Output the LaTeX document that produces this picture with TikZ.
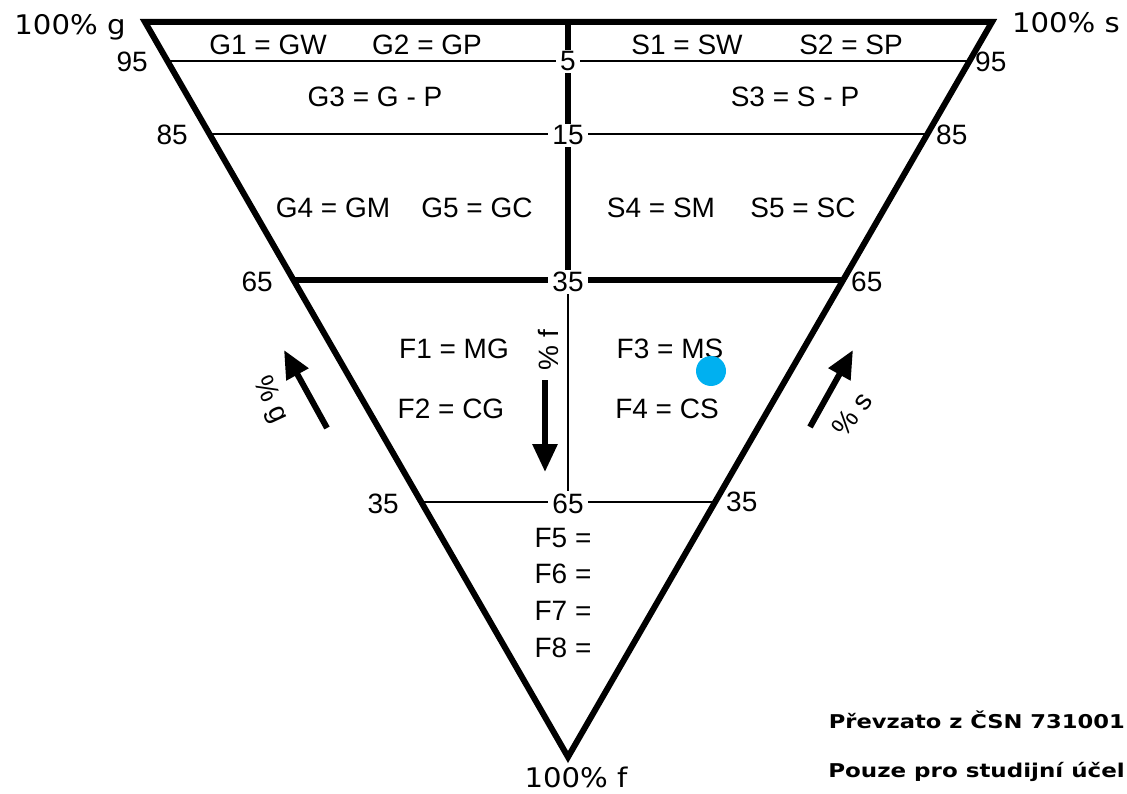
\documentclass[tikz,border=0pt]{standalone}
\usepackage{fontspec}
\usepackage{graphicx}
\setmainfont{Liberation Sans}
\newfontfamily\titlefont{DejaVu Sans}
\usetikzlibrary{calc,arrows.meta}
\definecolor{dotblue}{RGB}{0,176,240}
\tikzset{
  edgeline/.style={line width=6pt, line join=miter},
  thinline/.style={line width=1.5pt},
  thickmid/.style={line width=5.5pt},
  lab/.style={font=\fontsize{28}{32}\selectfont, inner sep=0pt, anchor=base},
  midlab/.style={lab, fill=white, inner xsep=4pt, inner ysep=2pt},
  corner/.style={font=\titlefont\fontsize{27}{31}\selectfont, inner sep=0pt, anchor=base},
  note/.style={font=\titlefont\bfseries\fontsize{19}{23}\selectfont, inner sep=0pt, anchor=base east},
  bigarrow/.style={line width=6pt, -{Triangle[length=28pt,width=24pt]}},
}
\begin{document}
\begin{tikzpicture}[x=1pt,y=-1pt]
\useasboundingbox (0,0) rectangle (1127,794);
% vertices
\coordinate (A) at (145,22);
\coordinate (B) at (992,22);
\coordinate (C) at (568,757);
\coordinate (T) at (568,22);
\coordinate (M65) at (568,280);
\coordinate (M35) at (568,502);
\coordinate (L95) at ($(A)!0.0531!(C)$);
\coordinate (R95) at ($(B)!0.0531!(C)$);
\coordinate (L85) at ($(A)!0.1524!(C)$);
\coordinate (R85) at ($(B)!0.1524!(C)$);
\coordinate (L65) at ($(A)!0.3510!(C)$);
\coordinate (R65) at ($(B)!0.3510!(C)$);
\coordinate (L35) at ($(A)!0.6531!(C)$);
\coordinate (R35) at ($(B)!0.6531!(C)$);
% grid lines
\draw[thinline] (L95) -- (R95);
\draw[thinline] (L85) -- (R85);
\draw[edgeline] (L65) -- (R65);
\draw[thinline] (L35) -- (R35);
\draw[thickmid] (T) -- (M65);
\draw[thinline] (M65) -- (M35);
% triangle
\draw[edgeline] (A) -- (B) -- (C) -- cycle;
% corner labels
\node[corner] (cg) at (70,35) {\scalebox{1.08}[1]{100\% g}};
\node[corner] (cs) at (1066,33) {\scalebox{1.08}[1]{100\% s}};
\node[corner] (cf) at (576,787) {\scalebox{1.08}[1]{100\% f}};
% scale numbers
\node[lab,anchor=base east] (l95) at (148,72) {95};
\node[lab,anchor=base east] (l85) at (188,145) {85};
\node[lab,anchor=base east] (l65) at (273,292) {65};
\node[lab,anchor=base east] (l35) at (399,513) {35};
\node[lab,anchor=base west] (r95) at (975,72) {95};
\node[lab,anchor=base west] (r85) at (936,145) {85};
\node[lab,anchor=base west] (r65) at (851,292) {65};
\node[lab,anchor=base west] (r35) at (726,511) {35};
\node[midlab] (c5) at (568,71) {5};
\node[midlab] (c15) at (568,145) {15};
\node[midlab] (c35) at (568,292) {35};
\node[midlab] (c65) at (568,513) {65};
% region labels
\node[lab] (g1) at (268,55) {G1 = GW};
\node[lab] (g2) at (427,55) {G2 = GP};
\node[lab] (s1) at (687,55) {S1 = SW};
\node[lab] (s2) at (851,55) {S2 = SP};
\node[lab] (g3) at (375,107) {G3 = G - P};
\node[lab] (s3) at (795,107) {S3 = S - P};
\node[lab] (g4) at (333,218) {G4 = GM};
\node[lab] (g5) at (477,218) {G5 = GC};
\node[lab] (s4) at (661,218) {S4 = SM};
\node[lab] (s5) at (803,218) {S5 = SC};
\node[lab] (f1) at (454,358) {F1 = MG};
\node[lab] (f3) at (670,358) {F3 = MS};
\node[lab] (f2) at (451,418) {F2 = CG};
\node[lab] (f4) at (667,418) {F4 = CS};
\node[lab] (f5) at (563,547) {F5 =};
\node[lab] (f6) at (563,583) {F6 =};
\node[lab] (f7) at (563,620) {F7 =};
\node[lab] (f8) at (563,657) {F8 =};
% direction labels and arrows
\node[lab,anchor=center,rotate=90] (pf) at (548,350) {\% f};
\node[lab,anchor=center,rotate=-65] (pg) at (270,400) {\% g};
\node[lab,anchor=center,rotate=53] (ps) at (852,414) {\% s};
\coordinate (fa0) at (545,380);
\coordinate (fa1) at (545,472);
\coordinate (ga0) at (327,428);
\coordinate (ga1) at (284,350);
\coordinate (sa0) at (810,427);
\coordinate (sa1) at (853,350);
\draw[bigarrow] (fa0) -- (fa1);
\draw[bigarrow] (ga0) -- (ga1);
\draw[bigarrow] (sa0) -- (sa1);
% marker
\node[circle, fill=dotblue, minimum size=30pt, inner sep=0pt] (dot) at (711,371) {};
% notes
\node[note] (n1) at (1125,728) {\scalebox{1.19}[1]{Převzato z ČSN 731001}};
\node[note] (n2) at (1125,777) {\scalebox{1.21}[1]{Pouze pro studijní účel}};
\end{tikzpicture}
\end{document}
